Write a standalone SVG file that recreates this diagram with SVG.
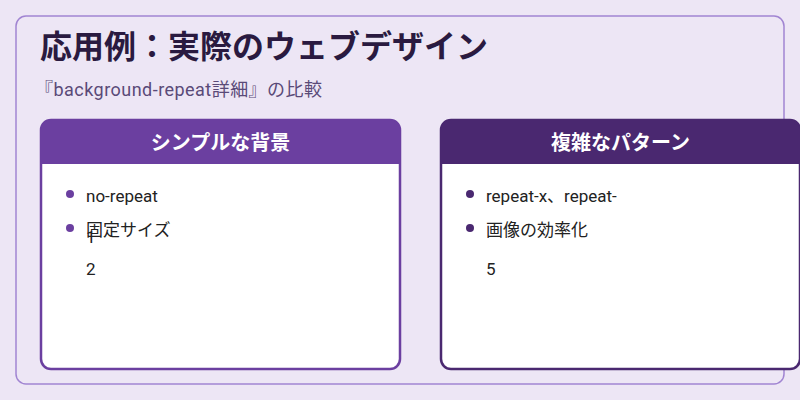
<svg xmlns="http://www.w3.org/2000/svg" width="800" height="400" viewBox="0 0 800 400">
<style>
text{font-family:Roboto,"Noto Sans CJK JP",sans-serif}
.t{font-size:17px;fill:#222}
.h{font-size:20px;font-weight:bold;fill:#fff}
</style>
<rect width="800" height="400" fill="#ede6f5"/>
<rect x="16" y="16" width="768" height="368" rx="10" fill="#ede6f5" stroke="#a185d2" stroke-width="1.5"/>
<text x="40" y="58" font-size="32" font-weight="bold" fill="#2a1a40">応用例：実際のウェブデザイン</text>
<text x="35" y="96" font-size="18" fill="#5a4a78" textLength="287">『background-repeat詳細』の比較</text>
<g id="card1">
<rect x="41" y="120" width="359" height="249" rx="10" fill="#fff" stroke="#6b3fa0" stroke-width="2.5"/>
<path d="M41 164V130a10 10 0 0 1 10-10h339a10 10 0 0 1 10 10v34z" fill="#6b3fa0"/>
<text class="h" x="220.5" y="150" text-anchor="middle">シンプルな背景</text>
<circle cx="70" cy="194" r="4" fill="#6b3fa0"/><text class="t" x="86" y="202">no-repeat</text>
<circle cx="70" cy="228" r="4" fill="#6b3fa0"/><text class="t" x="86" y="236">固定サイズ</text>
<text class="t" x="86" y="243">1</text>
<text class="t" x="86" y="275">2</text>
</g>
<g id="card2">
<rect x="441" y="120" width="359" height="249" rx="10" fill="#fff" stroke="#4a2870" stroke-width="2.5"/>
<path d="M441 164V130a10 10 0 0 1 10-10h339a10 10 0 0 1 10 10v34z" fill="#4a2870"/>
<text class="h" x="620.5" y="150" text-anchor="middle">複雑なパターン</text>
<circle cx="470" cy="194" r="4" fill="#4a2870"/><text class="t" x="486" y="202">repeat-x、repeat-</text>
<circle cx="470" cy="228" r="4" fill="#4a2870"/><text class="t" x="486" y="236">画像の効率化</text>
<text class="t" x="486" y="275">5</text>
</g>
<g id="connectors"/>
</svg>
